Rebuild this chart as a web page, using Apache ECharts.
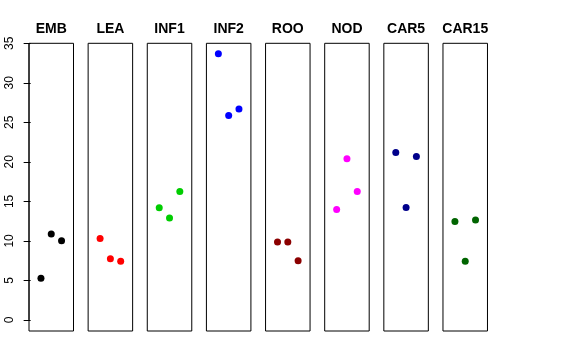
<!DOCTYPE html>
<html>
<head>
<meta charset="utf-8">
<script src="https://cdn.jsdelivr.net/npm/echarts@6/dist/echarts.min.js"></script>
<style>html,body{margin:0;padding:0;background:#fff}#c{width:576px;height:360px}</style>
</head>
<body>
<div id="c"></div>
<script>
const panels = ['EMB', 'LEA', 'INF1', 'INF2', 'ROO', 'NOD', 'CAR5', 'CAR15'];
const xPos = [1, 2, 3];
const EMB = [5.26, 10.87, 10.02];
const LEA = [10.31, 7.75, 7.41];
const INF1 = [14.19, 12.89, 16.25];
const INF2 = [33.69, 25.85, 26.70];
const ROO = [9.85, 9.85, 7.49];
const NOD = [13.98, 20.38, 16.25];
const CAR5 = [21.18, 14.23, 20.67];
const CAR15 = [12.46, 7.41, 12.63];
const yTicks = [0, 5, 10, 15, 20, 25, 30, 35];
const panelValues = [EMB, LEA, INF1, INF2, ROO, NOD, CAR5, CAR15];
const colors = ['#000000', '#FF0000', '#00CD00', '#0000FF', '#8B0000', '#FF00FF', '#00008B', '#006400'];

const font = '"Liberation Sans", Arial, Helvetica, sans-serif';
const grids = [], xAxes = [], yAxes = [], series = [], graphics = [];
const L0 = 29, STEP = 59.14, W = 44.5, TOP = 43.3, H = 287.7;
panels.forEach((name, i) => {
  const left = L0 + i * STEP;
  grids.push({left: left, top: TOP, width: W, height: H, show: true, borderColor: '#000', borderWidth: 1, backgroundColor: 'transparent'});
  xAxes.push({type: 'value', gridIndex: i, min: -0.16, max: 4.16, show: false});
  const first = i === 0;
  yAxes.push({
    type: 'value', gridIndex: i, min: -1.4, max: 35, show: true,
    splitLine: {show: false},
    axisLine: {show: false},
    axisTick: first ? {show: true, length: 7, inside: false, customValues: yTicks, lineStyle: {color: '#000', width: 1}} : {show: false},
    axisLabel: first ? {show: true, customValues: yTicks, rotate: 90, margin: 13, color: '#000', fontSize: 12, fontFamily: font} : {show: false}
  });
  series.push({
    type: 'scatter', xAxisIndex: i, yAxisIndex: i,
    data: xPos.map((x, k) => [x, panelValues[i][k]]),
    symbol: 'circle', symbolSize: 7,
    itemStyle: {color: colors[i], opacity: 1},
    silent: true, animation: false
  });
  graphics.push({
    type: 'text', silent: true,
    style: {text: name, x: left + W / 2, y: 29, align: 'center', verticalAlign: 'middle',
      fontSize: 14, fontWeight: 'bold', fill: '#000', fontFamily: font}
  });
});
graphics.push({
  type: 'line', silent: true,
  shape: {x1: L0, y1: TOP, x2: L0, y2: TOP + H * 35 / 36.4},
  style: {stroke: '#000', lineWidth: 1}
});

const chart = echarts.init(document.getElementById('c'), null, {renderer: 'canvas'});
chart.setOption({
  animation: false,
  grid: grids,
  xAxis: xAxes,
  yAxis: yAxes,
  series: series,
  graphic: graphics
});
</script>
</body>
</html>
